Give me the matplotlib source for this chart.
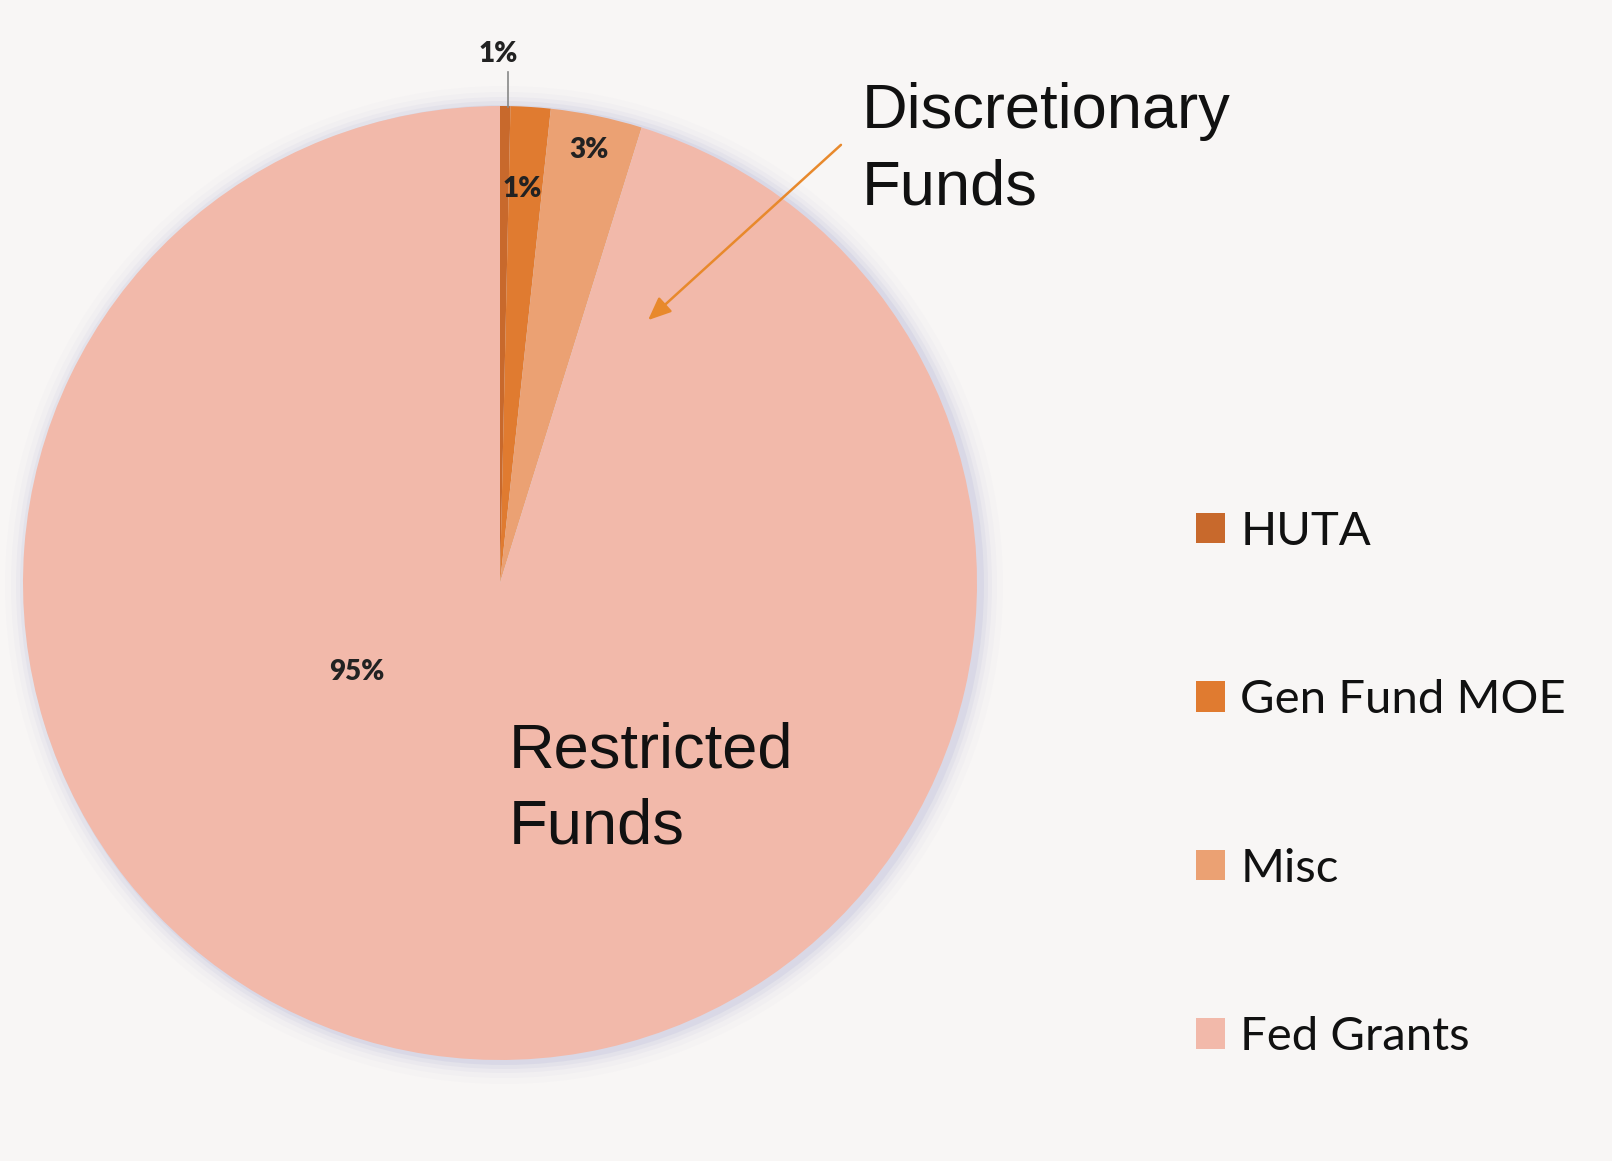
import matplotlib.pyplot as plt
from matplotlib.patches import Circle, Patch

# data
categories = ["HUTA", "Gen Fund MOE", "Misc", "Fed Grants"]
shares = [0.35, 1.35, 3.1, 95.2]
pct_labels = ["1%", "1%", "3%", "95%"]
colors = ["#C8692C", "#E07B30", "#EBA173", "#F2B9AA"]

W, H = 1612, 1161


def py(y):
    # pixel rows from the top -> data y
    return H - y


fig = plt.figure(figsize=(W / 100, H / 100), dpi=100, facecolor="#F8F6F5")
ax = fig.add_axes([0, 0, 1, 1])

cx, cy, r = 500, py(583), 477

# soft bluish shadow round the pie
for k, a in [(22, 0.04), (16, 0.06), (11, 0.09), (7, 0.13), (3, 0.2)]:
    ax.add_patch(Circle((cx + 4, cy - 2), r + k, color="#B4B4D6", alpha=a, lw=0, zorder=1))

wedges, _ = ax.pie(shares, colors=colors, startangle=90, counterclock=False,
                   center=(cx, cy), radius=r, frame=True,
                   wedgeprops=dict(linewidth=0, zorder=2))
ax.set_xlim(0, W)
ax.set_ylim(0, H)
ax.set_aspect("equal")
ax.axis("off")

lbl = dict(fontsize=20, fontweight="heavy", family="Lato", color="#222222",
           ha="center", va="center", zorder=5)
# HUTA label sits outside with a leader line
ax.plot([508, 508], [py(72), py(107)], color="#888888", lw=1.2, zorder=4)
ax.text(498, py(54), pct_labels[0], **lbl)
ax.text(522, py(189), pct_labels[1], **lbl)
ax.text(589, py(150), pct_labels[2], **lbl)
ax.text(357, py(672), pct_labels[3], **lbl)

big = dict(fontsize=45.5, family="Liberation Sans", color="#111111",
           ha="left", va="center", linespacing=1.38, zorder=5)
ax.text(862, py(150), "Discretionary\nFunds", **big)
ax.text(509, py(789), "Restricted\nFunds", **big)

ax.annotate("", xy=(646, py(322)), xytext=(843, py(143)),
            arrowprops=dict(arrowstyle="-|>,head_length=1.4,head_width=0.6",
                            color="#E8892C", lw=1.8), zorder=6)

handles = [Patch(facecolor=c, edgecolor="none") for c in colors]
leg = fig.legend(handles, categories, loc="upper left",
                 bbox_to_anchor=(1153 / W, 1 - 468 / H), frameon=False,
                 prop=dict(family="Lato", size=34), labelspacing=2.68,
                 handlelength=0.62, handleheight=0.62, handletextpad=0.33)
for t in leg.get_texts():
    t.set_color("#111111")

fig.savefig("out.png", dpi=100, facecolor=fig.get_facecolor())
